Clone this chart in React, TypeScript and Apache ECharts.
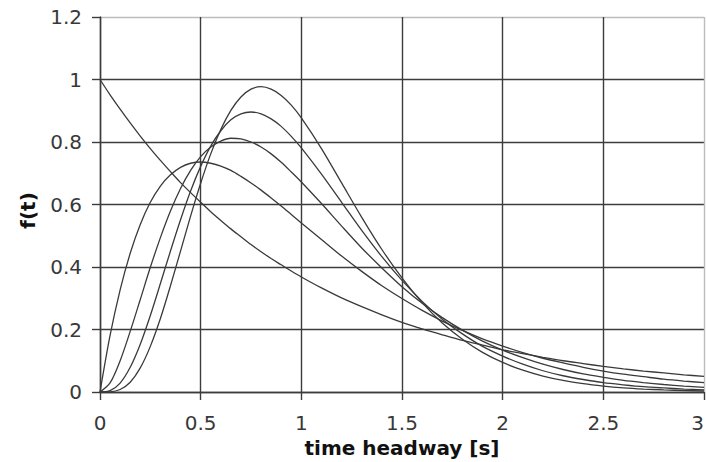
import React, { useEffect, useRef } from "react";
import * as echarts from "echarts";

const times = [
  0, 0.05, 0.1, 0.15, 0.2, 0.25, 0.3, 0.35, 0.4, 0.45, 0.5, 0.55, 0.6, 0.65, 0.7, 0.75, 0.8, 0.85, 0.9, 0.95,
  1.0, 1.1, 1.2, 1.3, 1.4, 1.5, 1.6, 1.7, 1.8, 1.9, 2.0, 2.1, 2.2, 2.3, 2.4, 2.5, 2.6, 2.7, 2.8, 2.9, 3.0,
];

const curveA = [
  1.0, 0.951, 0.905, 0.861, 0.819, 0.779, 0.741, 0.705, 0.67, 0.638, 0.607, 0.577, 0.549, 0.522, 0.497, 0.472, 0.449, 0.427, 0.407, 0.387,
  0.368, 0.333, 0.301, 0.273, 0.247, 0.223, 0.202, 0.183, 0.165, 0.15, 0.135, 0.123, 0.111, 0.1, 0.091, 0.082, 0.074, 0.067, 0.061, 0.055, 0.05,
];

const curveB = [
  0, 0.181, 0.327, 0.444, 0.536, 0.607, 0.659, 0.695, 0.719, 0.732, 0.736, 0.732, 0.723, 0.709, 0.69, 0.669, 0.646, 0.621, 0.595, 0.568,
  0.541, 0.488, 0.435, 0.386, 0.34, 0.299, 0.261, 0.227, 0.197, 0.17, 0.147, 0.126, 0.108, 0.093, 0.079, 0.067, 0.057, 0.049, 0.041, 0.035, 0.03,
];

const curveC = [
  0, 0.029, 0.1, 0.194, 0.296, 0.399, 0.494, 0.579, 0.651, 0.709, 0.753, 0.784, 0.803, 0.812, 0.81, 0.8, 0.784, 0.762, 0.735, 0.704,
  0.672, 0.603, 0.531, 0.461, 0.397, 0.337, 0.284, 0.238, 0.198, 0.163, 0.134, 0.11, 0.089, 0.072, 0.058, 0.047, 0.037, 0.03, 0.024, 0.019, 0.015,
];

const curveD = [
  0, 0.0044, 0.0286, 0.079, 0.153, 0.245, 0.347, 0.451, 0.551, 0.643, 0.722, 0.787, 0.836, 0.871, 0.89, 0.896, 0.89, 0.874, 0.85, 0.818,
  0.781, 0.697, 0.607, 0.517, 0.433, 0.357, 0.29, 0.233, 0.186, 0.146, 0.115, 0.089, 0.068, 0.052, 0.04, 0.03, 0.023, 0.017, 0.013, 0.0095, 0.0071,
];

const curveE = [
  0, 0.0006, 0.0079, 0.031, 0.077, 0.146, 0.235, 0.34, 0.451, 0.563, 0.668, 0.762, 0.84, 0.901, 0.944, 0.969, 0.977, 0.969, 0.949, 0.918,
  0.877, 0.779, 0.669, 0.559, 0.456, 0.365, 0.286, 0.221, 0.169, 0.127, 0.0946, 0.0697, 0.0509, 0.0369, 0.0265, 0.019, 0.0134, 0.0095, 0.0067, 0.0046, 0.0032,
];

const allCurves = [curveA, curveB, curveC, curveD, curveE];

const xTitle = "time headway [s]";
const yTitle = "f(t)";

const DARK = "#3c3c3c";
const LIGHT = "#bdbdbd";

export default function App() {
  const ref = useRef<HTMLDivElement>(null);

  useEffect(() => {
    if (!ref.current) return;
    const chart = echarts.init(ref.current, null, { renderer: "svg" });
    const labelFont = {
      fontFamily: "DejaVu Sans",
      fontSize: 20,
      color: "#383838",
    };
    chart.setOption({
      animation: false,
      backgroundColor: "#ffffff",
      grid: { left: 100, right: 3, top: 17, bottom: 70, containLabel: false, outerBoundsMode: "none" },
      xAxis: {
        type: "value",
        min: 0,
        max: 3,
        interval: 0.5,
        name: xTitle,
        nameLocation: "middle",
        nameGap: 46,
        nameTextStyle: {
          fontFamily: "DejaVu Sans",
          fontWeight: "bold",
          fontSize: 20,
          color: "#111",
        },
        axisLine: { show: true, lineStyle: { color: DARK, width: 1.4 } },
        axisTick: { show: true, inside: false, length: 8, lineStyle: { color: DARK, width: 1.4 } },
        axisLabel: { ...labelFont, margin: 21, alignMaxLabel: "right" },
        splitLine: {
          show: true,
          lineStyle: { color: [DARK, DARK, DARK, DARK, DARK, DARK, LIGHT], width: 1.4 },
        },
      },
      yAxis: {
        type: "value",
        min: 0,
        max: 1.2,
        interval: 0.2,
        name: yTitle,
        nameLocation: "middle",
        nameGap: 62,
        nameRotate: 90,
        nameTextStyle: {
          fontFamily: "DejaVu Sans",
          fontWeight: "bold",
          fontSize: 20,
          color: "#111",
          padding: [0, 12, 0, 0],
        },
        axisLine: { show: true, lineStyle: { color: DARK, width: 1.4 } },
        axisTick: { show: true, inside: false, length: 8, lineStyle: { color: DARK, width: 1.4 } },
        axisLabel: { ...labelFont, margin: 18 },
        splitLine: {
          show: true,
          lineStyle: { color: [DARK, DARK, DARK, DARK, DARK, DARK, LIGHT], width: 1.4 },
        },
      },
      series: allCurves.map((vals) => ({
        type: "line",
        data: times.map((t, i) => [t, vals[i]]),
        showSymbol: false,
        symbol: "none",
        smooth: 0.3,
        lineStyle: { color: "#3a3a3a", width: 1.3 },
        silent: true,
      })),
    });
    return () => chart.dispose();
  }, []);

  return <div ref={ref} style={{ width: 707, height: 462, position: "absolute", left: 0, top: 0 }} />;
}
